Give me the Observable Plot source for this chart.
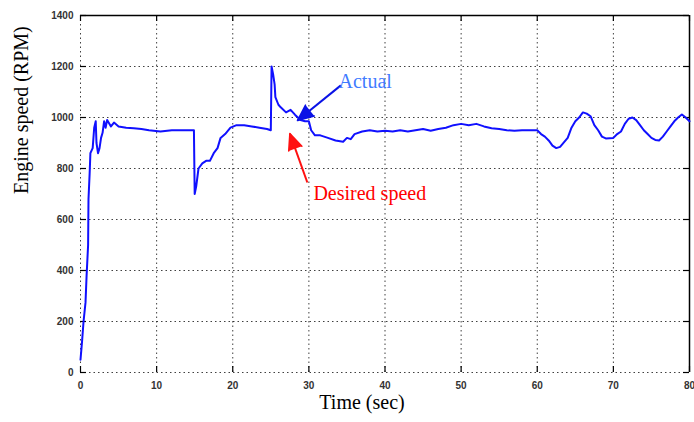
<!DOCTYPE html>
<html><head><meta charset="utf-8">
<script src="https://cdn.jsdelivr.net/npm/d3@7"></script>
<script src="https://cdn.jsdelivr.net/npm/@observablehq/plot@0.6"></script>
<style>
body{margin:0;background:#fff;}
#chart svg{display:block;}
</style></head>
<body><div id="chart"></div>
<script>
// Actual engine speed (RPM) over time (sec)
const time = [0,0.2,0.4,0.66,0.8,1.0,1.05,1.2,1.3,1.6,1.8,2.0,2.1,2.3,2.5,2.7,2.9,3.1,3.3,3.5,4.0,4.4,5,6,7,8,9,10.5,12,13.5,14.9,
  15.0,15.2,15.5,16,16.5,17,17.5,18,18.4,19,19.7,20.5,21.5,22.5,23.5,24.5,25,
  25.1,25.3,25.5,25.6,26,26.3,27,27.6,28.2,28.9,29.5,30,30.3,30.8,31.5,32.5,33.5,34.5,35,35.5,36,37,38,39,40,
  41,42,43,44,45,46,47,48,49,50,51,52,53,54,55,56,57,58,59,60,60.5,61,61.5,62,62.5,63,64,64.5,65,65.5,66,66.5,67,67.5,68,68.5,69,70,
  70.5,71,71.5,72,72.5,73,73.5,74,74.5,75,75.5,76,76.5,77,77.5,78,78.5,79,79.5,80];
const speed = [50,120,200,275,380,500,680,780,860,880,960,985,900,860,880,920,940,985,960,990,965,980,965,960,958,955,950,945,950,950,950,
  700,730,800,820,830,830,860,880,920,935,960,970,970,965,960,955,950,
  1200,1170,1130,1080,1050,1040,1020,1030,1010,990,985,985,950,930,930,920,910,905,920,915,935,945,950,945,948,
  945,950,945,950,955,948,955,960,970,975,970,975,965,958,955,950,948,950,950,950,935,925,910,890,880,885,920,960,985,1000,1020,1015,1005,970,950,925,918,920,
  935,945,975,995,1000,990,970,950,935,920,912,910,925,945,965,985,1000,1012,1000,985];

const xTicks = [0,10,20,30,40,50,60,70,80];
const yTicks = [0,200,400,600,800,1000,1200,1400];

const xLabel = "Time (sec)";
const yLabel = "Engine speed (RPM)";

// annotations: label, text anchor point, arrow start -> arrow tip (data units)
const noteText = ["Actual", "Desired speed"];
const noteX = [37.4, 38.0];
const noteY = [1141, 702];
const arrowX1 = [34.2, 29.8];
const arrowY1 = [1126, 745];
const arrowX2 = [28.5, 27.5];
const arrowY2 = [988, 937];

const data = time.map((t, i) => ({t, v: speed[i]}));
const notes = noteText.map((s, i) => ({s, x: noteX[i], y: noteY[i], x1: arrowX1[i], y1: arrowY1[i], x2: arrowX2[i], y2: arrowY2[i]}));
const arrowColor = ["#0a12e6", "#ff1010"];
const textColor = ["#3f7bff", "#ff0000"];
const headRotate = [231, 340];

const serif = "'Liberation Serif', 'Times New Roman', serif";

const chart = Plot.plot({
  width: 694,
  height: 422,
  marginLeft: 80,
  marginRight: 5,
  marginTop: 15,
  marginBottom: 50,
  style: {fontFamily: "'Liberation Sans', Arial, sans-serif", background: "#fff", color: "#222"},
  x: {domain: [0, 80]},
  y: {domain: [0, 1400]},
  marks: [
    Plot.gridX(xTicks, {stroke: "#000", strokeOpacity: 0.75, strokeDasharray: "1.5,3"}),
    Plot.gridY(yTicks, {stroke: "#000", strokeOpacity: 0.75, strokeDasharray: "1.5,3"}),
    // inward tick marks (bottom, top, left, right)
    Plot.tickX(xTicks, {x: d => d, insetTop: 351, stroke: "#000", strokeWidth: 1.2}),
    Plot.tickX(xTicks, {x: d => d, insetBottom: 351, stroke: "#000", strokeWidth: 1.2}),
    Plot.tickY(yTicks, {y: d => d, insetRight: 603, stroke: "#000", strokeWidth: 1.2}),
    Plot.tickY(yTicks, {y: d => d, insetLeft: 603, stroke: "#000", strokeWidth: 1.2}),
    // box: top and right
    Plot.ruleY([1400], {stroke: "#000", strokeWidth: 1.5}),
    Plot.ruleX([80], {stroke: "#000", strokeWidth: 1.5}),
    Plot.axisX(xTicks, {tickSize: 0, tickPadding: 9, label: null, tickFormat: d => String(d), fontSize: 10, fontWeight: "bold", fill: "#333"}),
    Plot.axisY(yTicks, {tickSize: 0, tickPadding: 7, label: null, tickFormat: d => String(d), fontSize: 10, fontWeight: "bold", fill: "#333"}),
    Plot.line(data, {x: "t", y: "v", stroke: "#1010ff", strokeWidth: 2}),
    // arrows
    Plot.link(notes, {x1: "x1", y1: "y1", x2: "x2", y2: "y2", stroke: (d, i) => arrowColor[i], strokeWidth: 2}),
    Plot.vector(notes, {x: "x2", y: "y2", shape: "spike", anchor: "end", length: 16, r: 7, rotate: (d, i) => headRotate[i], fill: (d, i) => arrowColor[i], stroke: (d, i) => arrowColor[i]}),
    Plot.text(notes, {x: "x", y: "y", text: "s", fill: (d, i) => textColor[i], fontSize: 20, fontFamily: serif}),
    Plot.text([xLabel], {frameAnchor: "bottom", text: d => d, dy: 36, dx: -23, fontSize: 20, fontFamily: serif, fill: "#000"}),
    Plot.text([yLabel], {frameAnchor: "left", text: d => d, rotate: -90, dx: -59, fontSize: 20, fontFamily: serif, fill: "#000"})
  ]
});
document.getElementById("chart").append(chart);
</script>
</body></html>
